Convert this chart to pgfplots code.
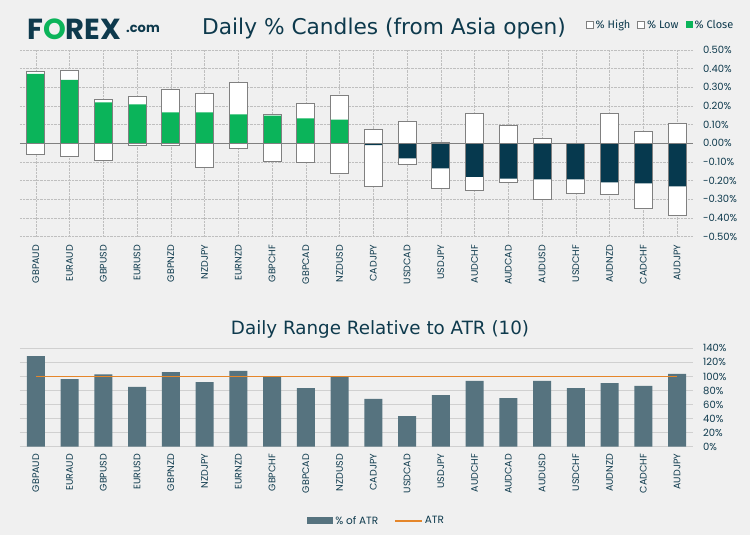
\documentclass[border=0pt]{standalone}
\usepackage{pgfplots}
\pgfplotsset{compat=1.18}
\usepackage{pgfplotstable}
\usepackage{fontspec}
\setmainfont{Fira Sans}
\newfontfamily\titlefont{DejaVu Sans}
\newfontfamily\tickfont{Poppins}
\newfontfamily\legfont{Fira Sans}

\definecolor{bg}{HTML}{F0F0F0}
\definecolor{txt}{HTML}{0E3A4D}
\definecolor{upgreen}{HTML}{0BB45A}
\definecolor{downblue}{HTML}{06394E}
\definecolor{edge}{HTML}{808080}
\definecolor{atrbar}{HTML}{56737F}
\definecolor{atrline}{HTML}{E5862A}
\definecolor{grid}{HTML}{C4C4C4}

% candle values in %, ATR ratio in %
\pgfplotstableread{
x high low close atr
0 0.383 -0.059 0.372 129
1 0.390 -0.070 0.340 96
2 0.236 -0.091 0.220 103
3 0.252 -0.010 0.209 85
4 0.289 -0.010 0.166 106
5 0.268 -0.129 0.166 92
6 0.327 -0.027 0.155 108
7 0.155 -0.096 0.148 100
8 0.214 -0.102 0.134 83.5
9 0.257 -0.161 0.127 100
10 0.075 -0.230 -0.010 68
11 0.118 -0.113 -0.080 43.5
12 0.004 -0.241 -0.134 73.5
13 0.161 -0.252 -0.179 93.5
14 0.096 -0.209 -0.189 69
15 0.027 -0.300 -0.193 93.5
16 0.000 -0.268 -0.193 83.5
17 0.161 -0.273 -0.209 90.5
18 0.064 -0.348 -0.214 86.5
19 0.107 -0.386 -0.230 103.5
}\fx

\pgfplotsset{
  fxaxis/.style={
    scale only axis,
    anchor=south west,
    width=673pt,
    xmin=-0.47, xmax=19.47,
    axis line style={draw=none},
    major tick length=0pt,
    xtick={0,...,19},
    xticklabels={GBPAUD,EURAUD,GBPUSD,EURUSD,GBPNZD,NZDJPY,EURNZD,GBPCHF,GBPCAD,NZDUSD,
      CADJPY,USDCAD,USDJPY,AUDCHF,AUDCAD,AUDUSD,USDCHF,AUDNZD,CADCHF,AUDJPY},
    xticklabel style={rotate=90, anchor=east, inner sep=0pt, font=\tickfont\fontsize{9.5}{10}\selectfont, text=txt},
    yticklabel pos=right,
    yticklabel style={anchor=west, inner sep=0pt, font=\tickfont\fontsize{10}{11}\selectfont, text=txt},
    yticklabel shift=10pt,
    /pgf/number format/assume math mode=true,
    ymajorgrids,
  },
}

\begin{document}
\begin{tikzpicture}
\fill[bg] (0,0) rectangle (750pt,535pt);
\useasboundingbox (0,0) rectangle (750pt,535pt);

% logo and titles
\node[anchor=base west, inner sep=0pt, text=txt] at (27pt,495pt)
  {\tickfont\bfseries\fontsize{29}{30}\selectfont F\textcolor{upgreen}{O}REX};
\node[anchor=base west, inner sep=0pt, text=txt] at (126pt,502pt)
  {\tickfont\bfseries\fontsize{13}{14}\selectfont .com};
\node[anchor=base west, inner sep=0pt, text=txt] at (202pt,500pt)
  {\titlefont\fontsize{21.7}{24}\selectfont Daily \% Candles (from Asia open)};
\node[anchor=base, inner sep=0pt, text=txt] at (380pt,200pt)
  {\titlefont\fontsize{18.3}{22}\selectfont Daily Range Relative to ATR (10)};

% candles
\begin{axis}[fxaxis,
  at={(20pt,298.3pt)}, height=186.7pt,
  ymin=-0.5, ymax=0.5,
  ytick={-0.5,-0.4,-0.3,-0.2,-0.1,0,0.1,0.2,0.3,0.4,0.5},
  yticklabels={-0.50\%,-0.40\%,-0.30\%,-0.20\%,-0.10\%,0.00\%,0.10\%,0.20\%,0.30\%,0.40\%,0.50\%},
  grid style={densely dotted, grid, line width=0.6pt},
  extra y ticks={0}, extra y tick labels={},
  extra y tick style={grid style={solid, edge, line width=0.8pt}},
  xticklabel shift=8pt,
  legend style={at={(0.952,1.134)}, anchor=center, draw=none, fill=none,
    legend columns=3, font=\legfont\fontsize{11}{12}\selectfont, text=txt,
    /tikz/every even column/.append style={column sep=5pt}},
]
\addplot[ybar, bar shift=0pt, bar width=18pt, fill=white, draw=edge, line width=1.2pt,
  legend image code/.code={\draw[draw=edge, fill=white, line width=0.6pt] (0pt,-3.5pt) rectangle (7pt,3.5pt);}]
  table[x=x, y=high] {\fx};
\addlegendentry{\% High}
\addplot[ybar, bar shift=0pt, bar width=18pt, fill=white, draw=edge, line width=1.2pt,
  legend image code/.code={\draw[draw=edge, fill=white, line width=0.6pt] (0pt,-3.5pt) rectangle (7pt,3.5pt);}]
  table[x=x, y=low] {\fx};
\addlegendentry{\% Low}
\addplot[ybar, bar shift=0pt, bar width=18pt, fill=upgreen, draw=none,
  restrict x to domain=0:9,
  legend image code/.code={\fill[upgreen] (0pt,-3.5pt) rectangle (7pt,3.5pt);}]
  table[x=x, y=close] {\fx};
\addlegendentry{\% Close}
\addplot[ybar, bar shift=0pt, bar width=18pt, fill=downblue, draw=none,
  restrict x to domain=10:19, forget plot]
  table[x=x, y=close] {\fx};
\addplot[ybar, bar shift=0pt, bar width=18pt, fill=none, draw=edge, line width=1.2pt, forget plot]
  table[x=x, y=high] {\fx};
\addplot[ybar, bar shift=0pt, bar width=18pt, fill=none, draw=edge, line width=1.2pt, forget plot]
  table[x=x, y=low] {\fx};
\end{axis}

% daily range vs ATR
\begin{axis}[fxaxis,
  at={(20pt,88.3pt)}, height=98.4pt,
  ymin=0, ymax=140,
  ytick={0,20,40,60,80,100,120,140},
  yticklabels={0\%,20\%,40\%,60\%,80\%,100\%,120\%,140\%},
  grid style={solid, grid!80, line width=0.5pt},
  xticklabel shift=7pt,
  legend style={at={(0.53,-0.755)}, anchor=center, draw=none, fill=none,
    legend columns=2, font=\tickfont\fontsize{10.5}{12}\selectfont, text=txt,
    /tikz/every even column/.append style={column sep=14pt}},
]
\addplot[ybar, bar shift=0pt, bar width=18pt, fill=atrbar, draw=none,
  legend image code/.code={\fill[atrbar] (0pt,-3.5pt) rectangle (26pt,3.5pt);}]
  table[x=x, y=atr] {\fx};
\addlegendentry{\% of ATR}
\addplot[atrline, line width=1.6pt, no marks,
  legend image code/.code={\draw[atrline, line width=1.6pt] (0pt,0pt) -- (27pt,0pt);}]
  coordinates {(0,100) (19,100)};
\addlegendentry{ATR}
\end{axis}
\end{tikzpicture}
\end{document}
